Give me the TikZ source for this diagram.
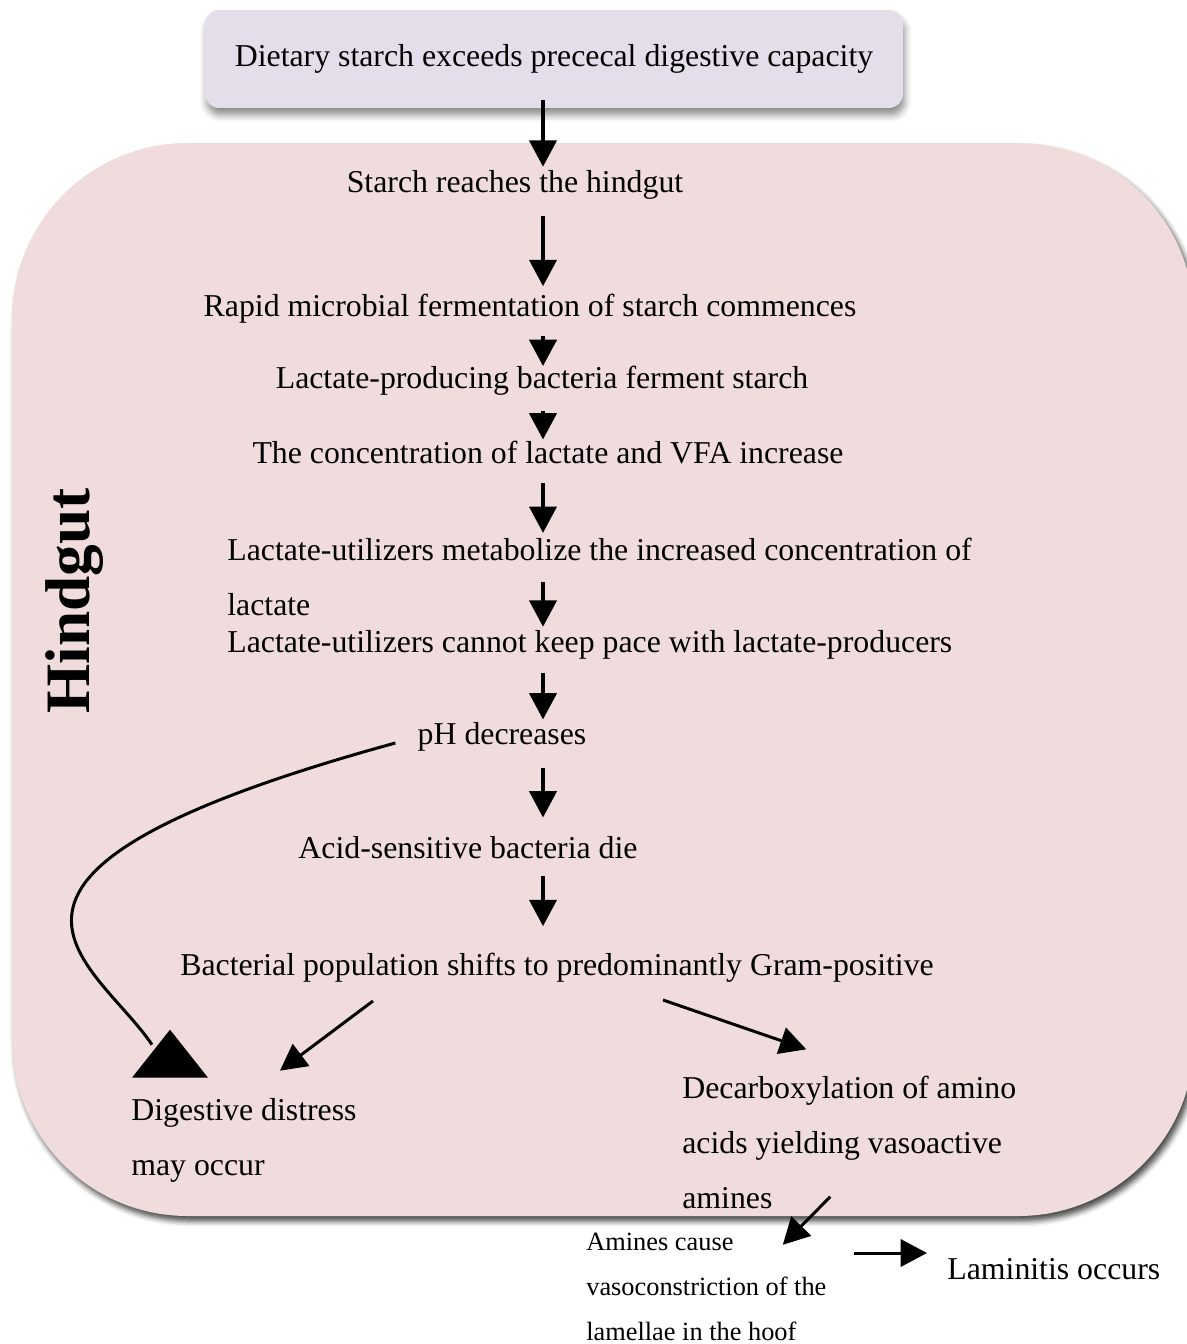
\documentclass[tikz,border=0pt]{standalone}
\usepackage{fontspec}
\setmainfont{Liberation Serif}
\usetikzlibrary{arrows.meta,positioning,calc,shadows.blur}

\definecolor{gutpink}{RGB}{240,220,220}
\definecolor{boxlilac}{RGB}{227,222,234}

\begin{document}
\begin{tikzpicture}[
        x=0.02cm, y=-0.02cm,
        txt/.style={inner sep=0pt, align=left, font=\fontsize{18.1}{31.3}\selectfont},
        smalltxt/.style={inner sep=0pt, align=left, font=\fontsize{15}{25.6}\selectfont},
        startbox/.style={rectangle, rounded corners=8pt, fill=boxlilac, minimum width=13.96cm, minimum height=1.96cm, align=center, font=\fontsize{18.1}{22}\selectfont,
            blur shadow={shadow xshift=1pt, shadow yshift=-4pt, shadow blur radius=4pt, shadow opacity=45}},
        gut/.style={fill=gutpink, rounded corners=100pt,
            blur shadow={shadow xshift=2pt, shadow yshift=-3pt, shadow blur radius=3pt, shadow opacity=70}},
        gutlabel/.style={inner sep=0pt, rotate=90, font=\fontsize{36}{40}\selectfont\bfseries},
        arrow/.style={-{Triangle[width=15.5pt,length=15pt,fill=black]}, line width=2pt, draw=black},
        darrow/.style={-{Triangle[width=15.5pt,length=15pt,fill=black]}, line width=1.7pt, draw=black}
    ]
    \useasboundingbox (0,0) rectangle (1186,1344);

    % Hindgut region
    \path[gut] (12,143) rectangle (1194,1216);
    \node[gutlabel] (hindlbl) at (75,601) {Hindgut};

    % Entry
    \node[startbox] (diet) at (554,59) {Dietary starch exceeds prececal digestive capacity};

    % Chain of events
    \coordinate (ax) at (543,0);
    \node[txt] (reach) at (515,185) {Starch reaches the hindgut};
    \node[txt] (rapid) at (530,309) {Rapid microbial fermentation of starch commences};
    \node[txt] (lprod) at (542,381) {Lactate-producing bacteria ferment starch};
    \node[txt] (conc) at (548,453) {The concentration of lactate and VFA increase};
    \node[txt, anchor=west] (lumet) at (227,577) {Lactate-utilizers metabolize the increased concentration of\\lactate};
    \node[txt, anchor=west] (lucant) at (227,645) {Lactate-utilizers cannot keep pace with lactate-producers};
    \node[txt] (ph) at (502,737) {pH decreases};
    \node[txt] (acid) at (468,848) {Acid-sensitive bacteria die};
    \node[txt] (shift) at (557,968) {Bacterial population shifts to predominantly Gram-positive};

    % Outcomes
    \node[txt, anchor=west] (distress) at (131,1140) {Digestive distress\\may occur};
    \node[txt, anchor=west] (decarb) at (682,1142) {Decarboxylation of amino\\acids yielding vasoactive\\amines};
    \node[smalltxt, anchor=west] (amines) at (586,1287) {Amines cause\\vasoconstriction of the\\lamellae in the hoof};
    \node[txt, anchor=west] (lamin) at (947,1269) {Laminitis occurs};

    % Connections - main chain
    \draw[arrow, shorten <=-4.5pt, shorten >=2pt] (diet.south -| ax) -- (reach.north -| ax);
    \draw[arrow, shorten <=9pt, shorten >=4.5pt] (reach.south -| ax) -- (rapid.north -| ax);
    \draw[arrow, shorten <=7pt, shorten >=0pt] (rapid.south -| ax) -- (lprod.north -| ax);
    \draw[arrow, shorten <=8.6pt, shorten >=1pt] (lprod.south -| ax) -- (conc.north -| ax);
    \draw[arrow, shorten <=10.3pt, shorten >=2.8pt] (conc.south -| ax) -- (lumet.north -| ax);
    \draw[arrow, shorten <=25pt, shorten >=2pt] (lumet.north -| ax) -- (lucant.north -| ax);
    \draw[arrow, shorten <=7.4pt, shorten >=1.6pt] (lucant.south -| ax) -- (ph.north -| ax);
    \draw[arrow, shorten <=9.1pt, shorten >=10.8pt] (ph.south -| ax) -- (acid.north -| ax);
    \draw[arrow, shorten <=9.1pt, shorten >=15.3pt] (acid.south -| ax) -- (shift.north -| ax);

    % Connections - outcomes
    \draw[darrow] ($(shift.south)+(-184,18)$) -- ($(distress.north)+(36,-27)$);
    \draw[darrow] ($(shift.south)+(106,17)$) -- ($(decarb.north)+(-43,-26)$);
    \draw[darrow] ($(decarb.south)+(-19,-12)$) -- ($(amines.north east)+(-44,12)$);
    \draw[darrow] ($(amines.east)+(27,-34)$) -- ($(lamin.west)+(-20,-16)$);

    % pH to digestive distress
    \coordinate (ddtip) at ($(distress.north west)+(39,-68)$);
    \draw[line width=1.7pt] ($(ph.west)+(-22,6)$) .. controls (-85,875) and (95,960) .. ($(ddtip)+(-18,15)$);
    \fill (ddtip) -- ++(-38,48) -- ++(76,0) -- cycle;

\end{tikzpicture}
\end{document}
